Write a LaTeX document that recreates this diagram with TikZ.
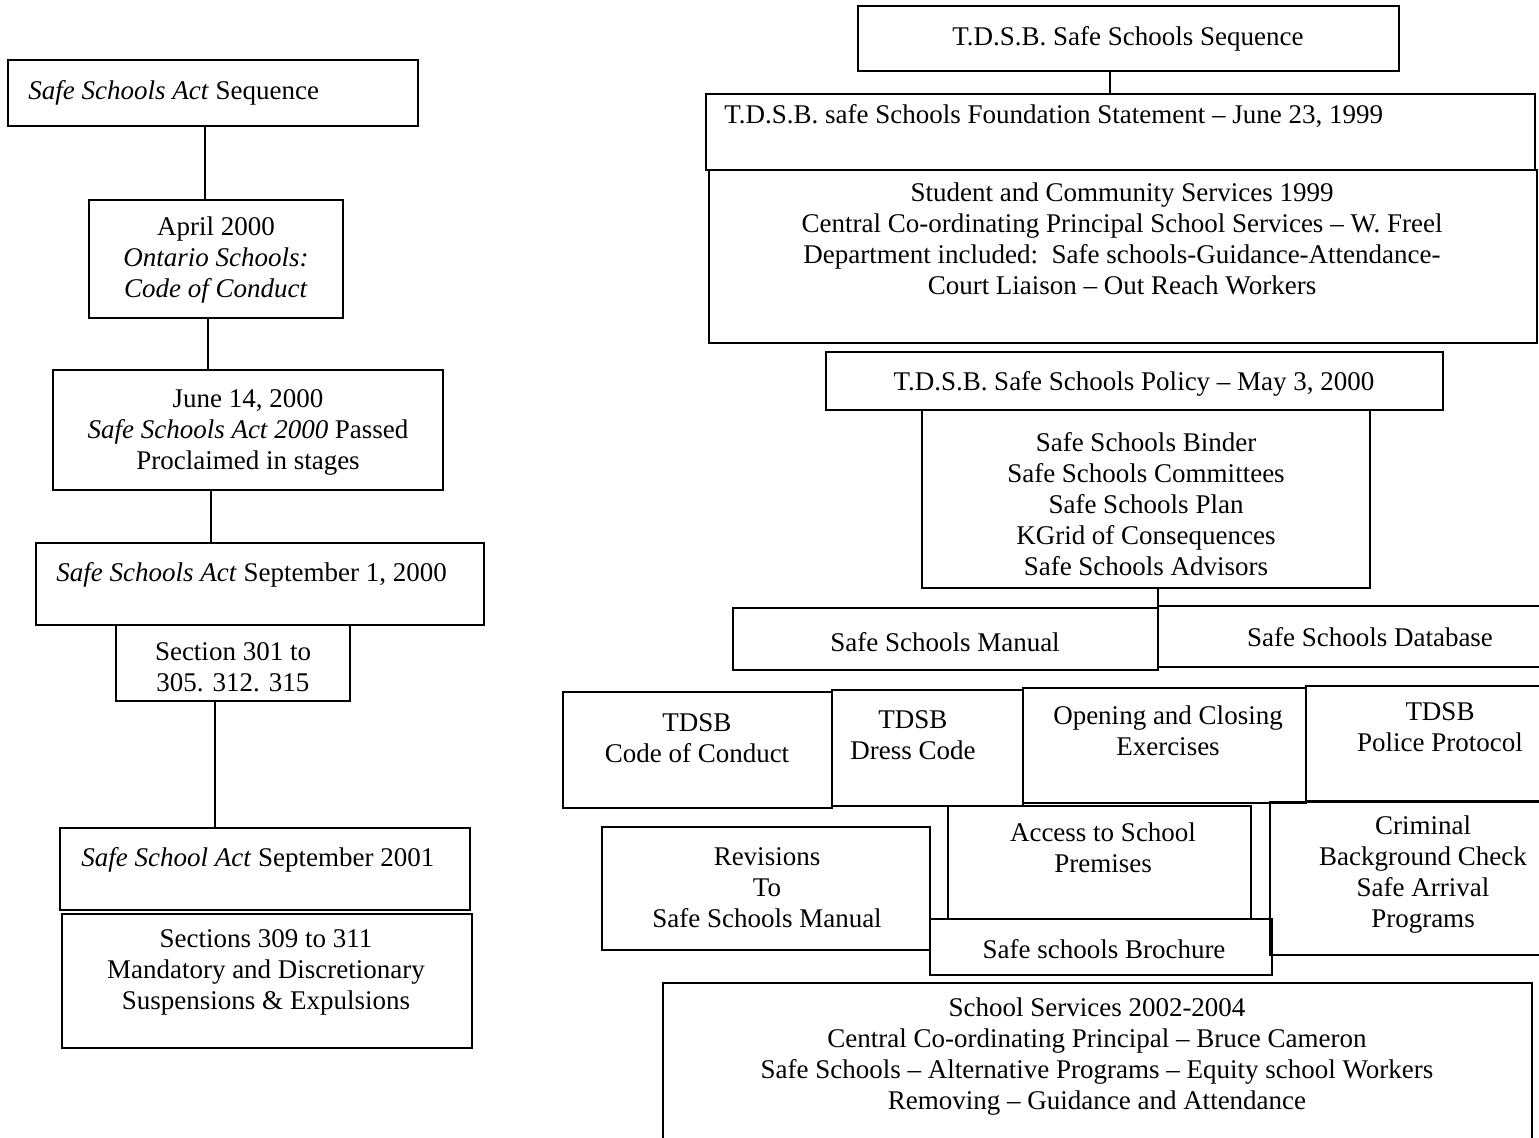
\documentclass[tikz,border=0pt]{standalone}
\usepackage{fontspec}
\setmainfont{Liberation Serif}
\usetikzlibrary{fit}
\tikzset{
  box/.style={draw, line width=0.9pt, inner sep=0pt, fit={#1}},
  txt/.style={inner sep=0pt, align=center, font=\fontsize{13.5}{15.5}\selectfont},
  ltxt/.style={inner sep=0pt, anchor=west, font=\fontsize{13.5}{15.5}\selectfont},
  conn/.style={line width=0.9pt}
}
\begin{document}
\begin{tikzpicture}[x=0.5pt,y=-0.5pt]
\path[use as bounding box] (0,0) rectangle (1539,1138);
\clip (0,0) rectangle (1539,1138);

% ---------------- left column ----------------
\node[box={(8,60) (418,126)}] (b1) {};
\node[ltxt] (t1) at (28,93) {\textit{Safe Schools Act} Sequence};

\node[box={(89,200) (343,318)}] (b2) {};
\node[txt] (t2) at (216,260) {April 2000\\\textit{Ontario Schools:}\\\textit{Code of Conduct}};

\node[box={(53,370) (443,490)}] (b3) {};
\node[txt] (t3) at (248,432) {June 14, 2000\\\textit{Safe Schools Act 2000} Passed\\Proclaimed in stages};

\node[box={(36,543) (484,625)}] (b4) {};
\node[ltxt] (t4) at (56,575) {\textit{Safe Schools Act} September 1, 2000};

\node[box={(116,625) (350,701)}] (b5) {};
\node[txt] (t5) at (233,667) {Section 301 to\\305. 312. 315};

\node[box={(60,828) (470,910)}] (b6) {};
\node[ltxt] (t6) at (81,860) {\textit{Safe School Act} September 2001};

\node[box={(62,914) (472,1048)}] (b7) {};
\node[txt] (t7) at (266,972) {Sections 309 to 311\\Mandatory and Discretionary\\Suspensions \& Expulsions};

\draw[conn] (205,0 |- b1.south) -- (205,0 |- b2.north);
\draw[conn] (208,0 |- b2.south) -- (208,0 |- b3.north);
\draw[conn] (211,0 |- b3.south) -- (211,0 |- b4.north);
\draw[conn] (215,0 |- b5.south) -- (215,0 |- b6.north);

% ---------------- right column ----------------
\node[box={(858,6) (1399,71)}] (r1) {};
\node[txt] (u1) at (1128,39) {T.D.S.B. Safe Schools Sequence};

\node[box={(706,94) (1535,170)}] (r2) {};
\node[ltxt] (u2) at (724,116) {T.D.S.B. safe Schools Foundation Statement -- June 23, 1999};

\node[box={(709,170) (1537,343)}] (r3) {};
\node[txt] (u3) at (1122,239) {Student and Community Services 1999\\Central Co-ordinating Principal School Services -- W. Freel\\Department included:\ \ Safe schools-Guidance-Attendance-\\Court Liaison -- Out Reach Workers};

\node[box={(826,352) (1443,410)}] (r4) {};
\node[txt] (u4) at (1134,384) {T.D.S.B. Safe Schools Policy -- May 3, 2000};

\node[box={(922,410) (1370,588)}] (r5) {};
\node[txt] (u5) at (1146,504) {Safe Schools Binder\\Safe Schools Committees\\Safe Schools Plan\\KGrid of Consequences\\Safe Schools Advisors};

\node[box={(733,608) (1158,670)}] (r6) {};
\node[txt] (u6) at (945,642) {Safe Schools Manual};
\node[box={(1158,606) (1541,667)}] (r7) {};
\node[txt] (u7) at (1370,637) {Safe Schools Database};

\draw[conn] (1110,0 |- r1.south) -- (1110,0 |- r2.north);
\draw[conn] (1158,0 |- r5.south) -- (1158,0 |- r7.north);

% row of four
\node[box={(563,692) (832,808)}] (c1) {};
\node[txt] (v1) at (697,738) {TDSB\\Code of Conduct};
\node[box={(832,690) (1023,806)}] (c2) {};
\node[txt] (v2) at (913,735) {TDSB\\Dress Code};
\node[box={(1023,688) (1306,803)}] (c3) {};
\node[txt] (v3) at (1168,731) {Opening and Closing\\Exercises};
\node[box={(1306,686) (1541,801)}] (c4) {};
\node[txt] (v4) at (1440,727) {TDSB\\Police Protocol};

% lower cluster
\node[box={(602,827) (930,950)}] (d1) {};
\node[txt] (w1) at (767,888) {Revisions\\To\\Safe Schools Manual};
\node[box={(948,806) (1251,919)}] (d2) {};
\node[txt] (w2) at (1103,848) {Access to School\\Premises};
\node[box={(1270,802) (1541,955)}] (d3) {};
\node[txt] (w3) at (1423,875) {Criminal\\Background Check\\Safe Arrival\\Programs};
\node[box={(930,919) (1272,975)}] (d4) {};
\node[txt] (w4) at (1104,949) {Safe schools Brochure};

\node[box={(663,983) (1532,1150)}] (e1) {};
\node[txt] (x1) at (1097,1057) {School Services 2002-2004\\Central Co-ordinating Principal -- Bruce Cameron\\Safe Schools -- Alternative Programs -- Equity school Workers\\Removing -- Guidance and Attendance};
\end{tikzpicture}
\end{document}
